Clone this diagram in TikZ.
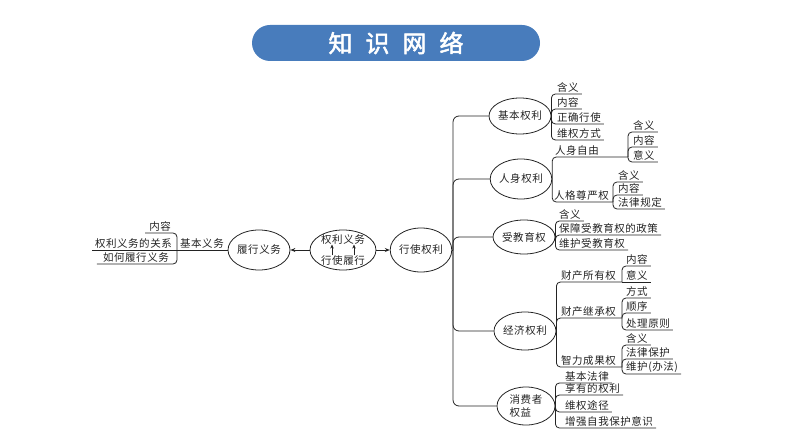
\documentclass[tikz,border=0pt]{standalone}
\usepackage{fontspec}
\setmainfont{Noto Sans CJK SC}[AutoFakeBold=2,LetterSpace=5]
\usetikzlibrary{shapes.geometric,arrows.meta}
\definecolor{titleblue}{RGB}{72,124,188}
\definecolor{inkc}{RGB}{35,35,35}
\newcommand\mfs{\fontsize{10.5}{13}\selectfont}
\tikzset{
  ell/.style={draw=inkc, ellipse, line width=0.8pt, inner sep=0pt, font=\mfs, text=inkc},
  lf/.style={inner xsep=3pt, inner ysep=1.5pt, anchor=south west, font=\mfs, text=inkc},
  lfl/.style={inner xsep=3pt, inner ysep=1.5pt, anchor=south east, font=\mfs, text=inkc},
  ln/.style={draw=inkc, line width=0.8pt, rounded corners=4pt},
  arr/.style={draw=inkc, line width=0.8pt, -{Stealth[length=5pt,width=4pt]}},
  sarr/.style={draw=inkc, line width=0.6pt, -{Stealth[length=4pt,width=3.5pt]}},
  ctext/.style={font=\mfs, text=inkc, inner sep=0pt}
}
\begin{document}
\begin{tikzpicture}[x=1pt,y=-1pt]
\useasboundingbox (0,0) rectangle (794,446);
% title
\node[fill=titleblue, rounded corners=18pt, minimum width=288pt, minimum height=36pt, inner sep=0pt, text=white, font=\fontsize{24}{26}\selectfont\bfseries] (title) at (396,43) {知\hspace{13pt}识\hspace{13pt}网\hspace{13pt}络};

% centre
\node[ell, minimum width=66pt, minimum height=40pt] (qlyw) at (343,250) {};
\node[ctext] (t1) at (343,239.5) {权利义务};
\node[ctext] (t2) at (343,260.5) {行使履行};
\draw[sarr] ([xshift=-11pt]t2.north) -- ([xshift=-11pt]t1.south);
\draw[sarr] ([xshift=11pt]t2.north) -- ([xshift=11pt]t1.south);

% left side
\node[ell, minimum width=62pt, minimum height=40pt] (lxyw) at (259,250) {履行义务};
\draw[arr] (qlyw.west) -- (lxyw.east);
\node[lf] (jbyw) at (177,250) {基本义务};
\draw[ln] (lxyw.west) -- (jbyw.south west);
\node[lfl, inner xsep=4pt] (l1) at (175,233) {内容};
\node[lfl] (l2) at (175,250) {权利义务的关系};
\node[lfl, inner xsep=6pt] (l3) at (175,264) {如何履行义务};
\draw[ln] (jbyw.south west) |- (l1.south west);
\draw[ln] (jbyw.south west) -- (l2.south west);
\draw[ln] (jbyw.south west) |- (l3.south west);

% right side
\node[ell, minimum width=58pt, minimum height=44pt] (xsql) at (421,250) {行使权利};
\draw[arr] (qlyw.east) -- (xsql.west);
\coordinate (J0) at (453,250);
\draw[ln] (xsql.east) -- (J0);

\node[ell, minimum width=62pt, minimum height=36pt] (jbql) at (520,116) {基本权利};
\node[ell, minimum width=58pt, minimum height=40pt] (rsql) at (521,179) {人身权利};
\node[ell, minimum width=62pt, minimum height=34pt] (sjyq) at (524,237) {受教育权};
\node[ell, minimum width=62pt, minimum height=38pt] (jjql) at (525,331) {经济权利};
\node[ell, minimum width=58pt, minimum height=38pt, align=left] (xfqy) at (526,406) {消费者\\权益};
\foreach \n in {jbql,rsql,sjyq,jjql,xfqy}
  \draw[ln, rounded corners=6pt] (J0) |- (\n.west);

% 基本权利
\node[lf] (a1) at (554,94) {含义};
\node[lf] (a2) at (554,109) {内容};
\node[lf] (a3) at (554,124) {正确行使};
\node[lf] (a4) at (554,140) {维权方式};
\foreach \n in {a1,a2,a3,a4}
  \draw[ln] (jbql.east) |- (\n.south east);

% 人身权利
\node[lf] (b1) at (552,157) {人身自由};
\coordinate (b1j) at (628,157);
\draw[ln] (rsql.east) |- (b1j);
\node[lf] (b11) at (630,132) {含义};
\node[lf] (b12) at (630,147) {内容};
\node[lf] (b13) at (630,162) {意义};
\foreach \n in {b11,b12,b13}
  \draw[ln] (b1j) |- (\n.south east);
\node[lf] (b2) at (551,202) {人格尊严权};
\coordinate (b2j) at (613,202);
\draw[ln] (rsql.east) |- (b2j);
\node[lf] (b21) at (615,182) {含义};
\node[lf] (b22) at (615,195) {内容};
\node[lf] (b23) at (615,209) {法律规定};
\foreach \n in {b21,b22,b23}
  \draw[ln] (b2j) |- (\n.south east);

% 受教育权
\node[lf] (c1) at (556,221) {含义};
\node[lf] (c2) at (556,235) {保障受教育权的政策};
\node[lf] (c3) at (556,250) {维护受教育权};
\foreach \n in {c1,c2,c3}
  \draw[ln] (sjyq.east) |- (\n.south east);

% 经济权利
\node[lf] (d1) at (558,282) {财产所有权};
\coordinate (d1j) at (622,282);
\draw[ln] (jjql.east) |- (d1j);
\node[lf] (d11) at (623,266) {内容};
\node[lf] (d12) at (623,282) {意义};
\draw[ln] (d1j) |- (d11.south east);
\draw[ln] (d1j) -- (d12.south east);
\node[lf] (d2) at (558,318) {财产继承权};
\coordinate (d2j) at (622,318);
\draw[ln] (jjql.east) |- (d2j);
\node[lf] (d21) at (623,298) {方式};
\node[lf] (d22) at (623,313) {顺序};
\node[lf] (d23) at (623,330) {处理原则};
\foreach \n in {d21,d22,d23}
  \draw[ln] (d2j) |- (\n.south east);
\node[lf] (d3) at (558,367) {智力成果权};
\coordinate (d3j) at (622,367);
\draw[ln] (jjql.east) |- (d3j);
\node[lf] (d31) at (623,345) {含义};
\node[lf] (d32) at (623,359) {法律保护};
\node[lf] (d33) at (623,374) {维护(办法)};
\foreach \n in {d31,d32,d33}
  \draw[ln] (d3j) |- (\n.south east);

% 消费者权益
\node[lf] (e1) at (562,383) {基本法律};
\node[lf] (e2) at (562,395) {享有的权利};
\node[lf] (e3) at (562,412) {维权途径};
\node[lf] (e4) at (562,428) {增强自我保护意识};
\foreach \n in {e1,e2,e3,e4}
  \draw[ln] (xfqy.east) |- (\n.south east);
\end{tikzpicture}
\end{document}
